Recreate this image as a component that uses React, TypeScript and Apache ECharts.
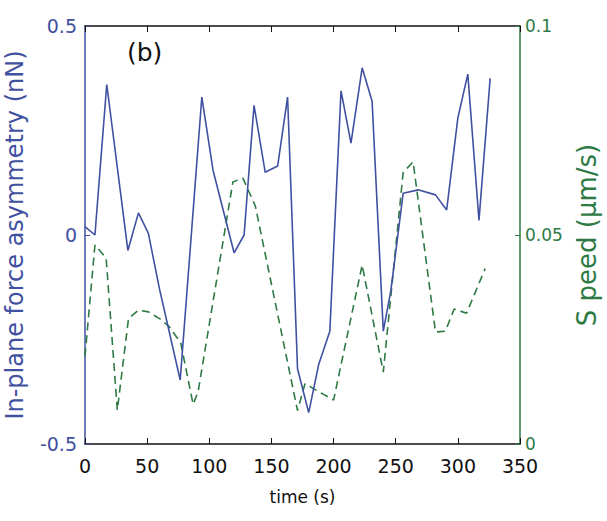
import React, { useEffect, useRef } from "react";
import * as echarts from "echarts";

const forceTimes = [0, 8, 17.5, 34.5, 43, 51, 60, 76.6, 94, 103, 120, 128, 136, 145, 155, 163, 171, 180, 188, 197, 206, 214, 223, 231, 240, 246, 256, 268, 282, 291, 300, 308, 317, 326];
const forceValues = [0.02, 0.0, 0.36, -0.037, 0.053, 0.004, -0.13, -0.347, 0.33, 0.155, -0.043, 0.0, 0.31, 0.15, 0.165, 0.33, -0.32, -0.425, -0.31, -0.23, 0.345, 0.22, 0.4, 0.32, -0.23, -0.135, 0.1, 0.108, 0.096, 0.06, 0.28, 0.385, 0.035, 0.375];

const speedTimes = [0, 8, 17, 26, 35, 43, 51, 60, 68, 77, 87, 91, 119, 127, 137, 171, 177, 200, 223, 240, 256, 264, 282, 290, 297, 307, 322];
const speedValues = [0.021, 0.0476, 0.0445, 0.0081, 0.03, 0.032, 0.0316, 0.03, 0.028, 0.0242, 0.0095, 0.0125, 0.0627, 0.0636, 0.057, 0.008, 0.0144, 0.0105, 0.0428, 0.0172, 0.065, 0.0675, 0.0268, 0.027, 0.0323, 0.0313, 0.042];

const xTicks = [0, 350, 50];
const forceAxis = [-0.5, 0.5, 0.5];
const speedAxis = [0, 0.1, 0.05];

const BLUE = "#3f51a0";
const GREEN = "#2e7a45";
const FONT = "DejaVu Sans";

export default function App() {
  const ref = useRef<HTMLDivElement>(null);
  useEffect(() => {
    if (!ref.current) return;
    const chart = echarts.init(ref.current, null, { renderer: "svg" });
    chart.setOption({
      animation: false,
      backgroundColor: "#ffffff",
      textStyle: { fontFamily: FONT },
      grid: { left: 85, right: 87, top: 26, bottom: 77, containLabel: false, outerBoundsMode: "none" },
      xAxis: [
        {
          type: "value",
          min: xTicks[0],
          max: xTicks[1],
          interval: xTicks[2],
          name: "time (s)",
          nameLocation: "middle",
          nameGap: 44,
          nameTextStyle: { color: "#111", fontSize: 17, fontFamily: FONT },
          axisLine: { onZero: false, lineStyle: { color: "#111", width: 1.5 } },
          axisTick: { inside: true, length: 6, lineStyle: { color: "#111" } },
          axisLabel: { color: "#111", fontSize: 19, margin: 12, fontFamily: FONT },
          splitLine: { show: false },
        },
        {
          type: "value",
          position: "top",
          min: xTicks[0],
          max: xTicks[1],
          interval: xTicks[2],
          axisLine: { onZero: false, lineStyle: { color: "#111", width: 1.5 } },
          axisTick: { inside: true, length: 6, lineStyle: { color: "#111" } },
          axisLabel: { show: false },
          splitLine: { show: false },
        },
      ],
      yAxis: [
        {
          type: "value",
          position: "left",
          min: forceAxis[0],
          max: forceAxis[1],
          interval: forceAxis[2],
          name: "In-plane force asymmetry (nN)",
          nameLocation: "middle",
          nameGap: 58,
          nameRotate: 90,
          nameTextStyle: { color: BLUE, fontSize: 24, fontFamily: FONT },
          axisLine: { show: true, onZero: false, lineStyle: { color: BLUE, width: 1.5 } },
          axisTick: { show: true, inside: true, length: 5, lineStyle: { color: BLUE } },
          axisLabel: {
            color: BLUE,
            fontSize: 19,
            margin: 8,
            fontFamily: FONT,
            formatter: (v: number) => (v === 0 ? "0" : String(v)),
          },
          splitLine: { show: false },
        },
        {
          type: "value",
          position: "right",
          min: speedAxis[0],
          max: speedAxis[1],
          interval: speedAxis[2],
          name: "S peed (μm/s)",
          nameLocation: "middle",
          nameGap: 54,
          nameRotate: 90,
          nameTextStyle: { color: GREEN, fontSize: 26, fontFamily: FONT },
          axisLine: { show: true, onZero: false, lineStyle: { color: GREEN, width: 1.5 } },
          axisTick: { show: true, inside: true, length: 5, lineStyle: { color: GREEN } },
          axisLabel: {
            color: GREEN,
            fontSize: 17,
            margin: 5,
            fontFamily: FONT,
            formatter: (v: number) => (v === 0 ? "0" : String(v)),
          },
          splitLine: { show: false },
        },
      ],
      graphic: [
        {
          type: "text",
          left: 127,
          top: 40,
          style: { text: "(b)", fill: "#111", fontSize: 25, fontFamily: FONT },
        },
      ],
      series: [
        {
          type: "line",
          name: "force",
          xAxisIndex: 0,
          yAxisIndex: 0,
          data: forceTimes.map((t, i) => [t, forceValues[i]]),
          showSymbol: false,
          lineStyle: { color: BLUE, width: 1.6 },
          z: 3,
        },
        {
          type: "line",
          name: "speed",
          xAxisIndex: 0,
          yAxisIndex: 1,
          data: speedTimes.map((t, i) => [t, speedValues[i]]),
          showSymbol: false,
          lineStyle: { color: GREEN, width: 1.6, type: [8, 5] },
          z: 2,
        },
      ],
    });
    return () => chart.dispose();
  }, []);
  return <div ref={ref} style={{ width: 607, height: 521, position: "absolute", left: 0, top: 0 }} />;
}
